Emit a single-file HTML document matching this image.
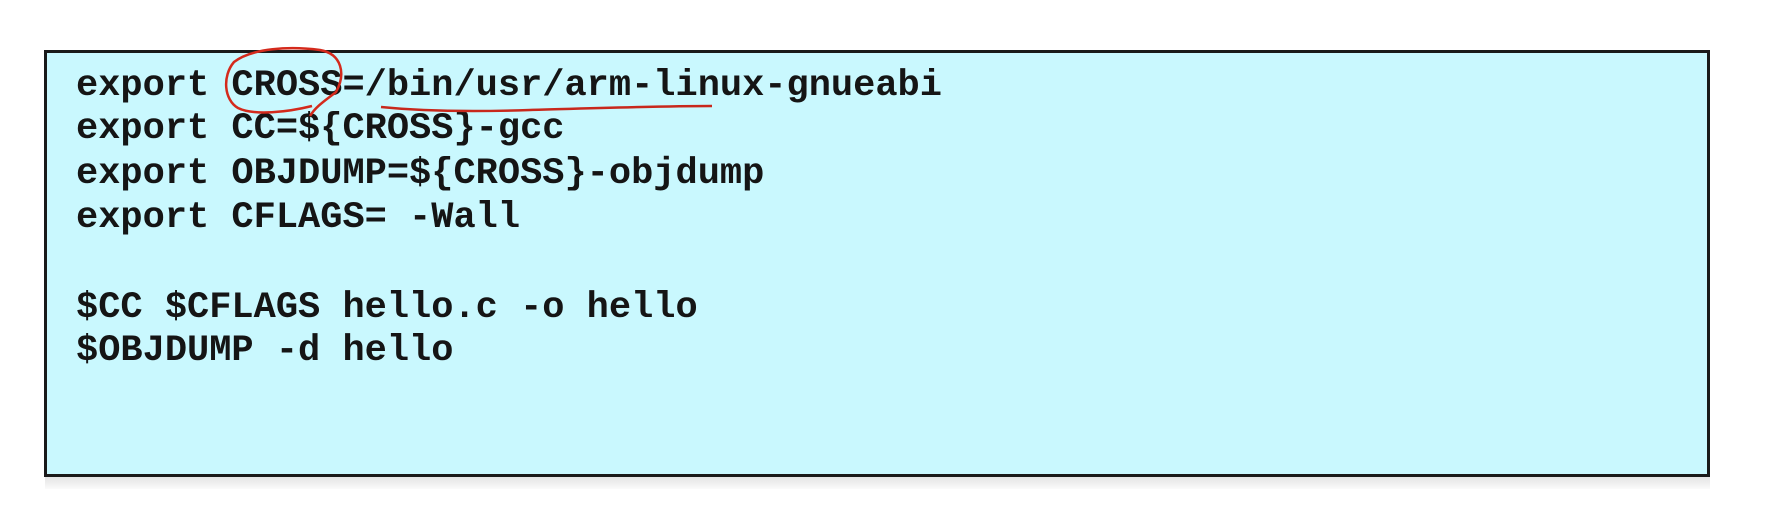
<!DOCTYPE html>
<html><head><meta charset="utf-8"><style>
html,body{margin:0;padding:0;background:#fff;width:1777px;height:524px;overflow:hidden;position:relative}
.shadow{position:absolute;left:45px;top:477px;width:1665px;height:12px;background:linear-gradient(#e4e4e4,#fbfbfb)}
.box{position:absolute;left:44px;top:50px;width:1660px;height:421px;background:#c9f8fe;border:3px solid #1a1a1a;}
.l{position:absolute;left:76px;font-family:"Liberation Mono",monospace;font-weight:bold;font-size:37px;color:#151515;white-space:pre;line-height:1}
svg{position:absolute;left:0;top:0}
</style></head><body>
<div class="shadow"></div>
<div class="box"></div>
<div class="l" style="top:68px">export CROSS=/bin/usr/arm-linux-gnueabi</div>
<div class="l" style="top:111px">export CC=${CROSS}-gcc</div>
<div class="l" style="top:156px">export OBJDUMP=${CROSS}-objdump</div>
<div class="l" style="top:200px">export CFLAGS= -Wall</div>
<div class="l" style="top:290px">$CC $CFLAGS hello.c -o hello</div>
<div class="l" style="top:333px">$OBJDUMP -d hello</div>
<svg width="1777" height="524">
<path d="M310 116 C316 106 326 100 336 92 C346 74 342 54 320 50 C290 46 252 48 234 62 C222 76 224 100 238 108 C254 116 288 112 312 106" fill="none" stroke="#d42a1c" stroke-width="2.5"/>
<path d="M381 107 C420 111 470 112 530 110 C600 108 660 106 712 106" fill="none" stroke="#c8281c" stroke-width="2.5"/>
</svg>
</body></html>
